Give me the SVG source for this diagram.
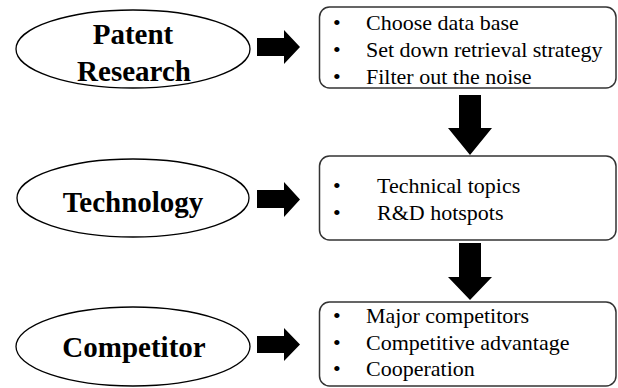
<svg xmlns="http://www.w3.org/2000/svg" width="618" height="388" viewBox="0 0 618 388">
  <defs>
    <style>
      .stage { fill: #fff; stroke: #000; stroke-width: 1.3; }
      .box { fill: #fff; stroke: #333; stroke-width: 1.5; }
      .arrow { fill: #000; stroke: none; }
      text { font-family: 'Times New Roman', 'Liberation Serif', Tinos, serif; }
    </style>
  </defs>
  <rect width="618" height="388" fill="#fff"/>

  <!-- stage ellipses -->
  <g id="patent-research">
    <ellipse class="stage" cx="133" cy="49" rx="117" ry="39"/>
    <text font-weight="bold" font-size="29" text-anchor="middle" x="133" y="44">Patent</text>
    <text font-weight="bold" font-size="29" text-anchor="middle" x="134" y="81">Research</text>
  </g>
  <g id="technology">
    <ellipse class="stage" cx="133" cy="198" rx="116" ry="39"/>
    <text font-weight="bold" font-size="29" text-anchor="middle" x="133" y="212">Technology</text>
  </g>
  <g id="competitor">
    <ellipse class="stage" cx="133" cy="346.5" rx="117" ry="39.5"/>
    <text font-weight="bold" font-size="29" text-anchor="middle" x="134" y="357">Competitor</text>
  </g>

  <!-- detail boxes -->
  <g id="research-steps">
    <rect class="box" x="319.5" y="7" width="296.5" height="81" rx="10"/>
    <text font-size="22" x="333" y="30">&#8226;</text>
    <text font-size="22" x="366" y="30">Choose data base</text>
    <text font-size="22" x="333" y="57">&#8226;</text>
    <text font-size="22" x="366" y="57">Set down retrieval strategy</text>
    <text font-size="22" x="333" y="84">&#8226;</text>
    <text font-size="22" x="366" y="84">Filter out the noise</text>
  </g>
  <g id="technology-items">
    <rect class="box" x="319.5" y="156" width="296.5" height="84" rx="10"/>
    <text font-size="22" x="333" y="193">&#8226;</text>
    <text font-size="22" x="377" y="193">Technical topics</text>
    <text font-size="22" x="333" y="220">&#8226;</text>
    <text font-size="22" x="377" y="220">R&amp;D hotspots</text>
  </g>
  <g id="competitor-items">
    <rect class="box" x="319.5" y="302" width="296.5" height="84" rx="10"/>
    <text font-size="22" x="333" y="323">&#8226;</text>
    <text font-size="22" x="366" y="323">Major competitors</text>
    <text font-size="22" x="333" y="349.5">&#8226;</text>
    <text font-size="22" x="366" y="349.5">Competitive advantage</text>
    <text font-size="22" x="333" y="376">&#8226;</text>
    <text font-size="22" x="366" y="376">Cooperation</text>
  </g>

  <!-- block arrows -->
  <g id="connectors">
    <polygon class="arrow" points="257,38 284,38 284,30 300,47 284,64 284,56 257,56"/>
    <polygon class="arrow" points="257,190 284,190 284,182 300,199.5 284,217 284,208 257,208"/>
    <polygon class="arrow" points="257,336 284,336 284,328 300,344.5 284,361 284,353 257,353"/>
    <polygon class="arrow" points="459,95 481,95 481,128 492,128 470,155 448,128 459,128"/>
    <polygon class="arrow" points="459,243 481,243 481,277 492,277 470,300 448,277 459,277"/>
  </g>
</svg>
